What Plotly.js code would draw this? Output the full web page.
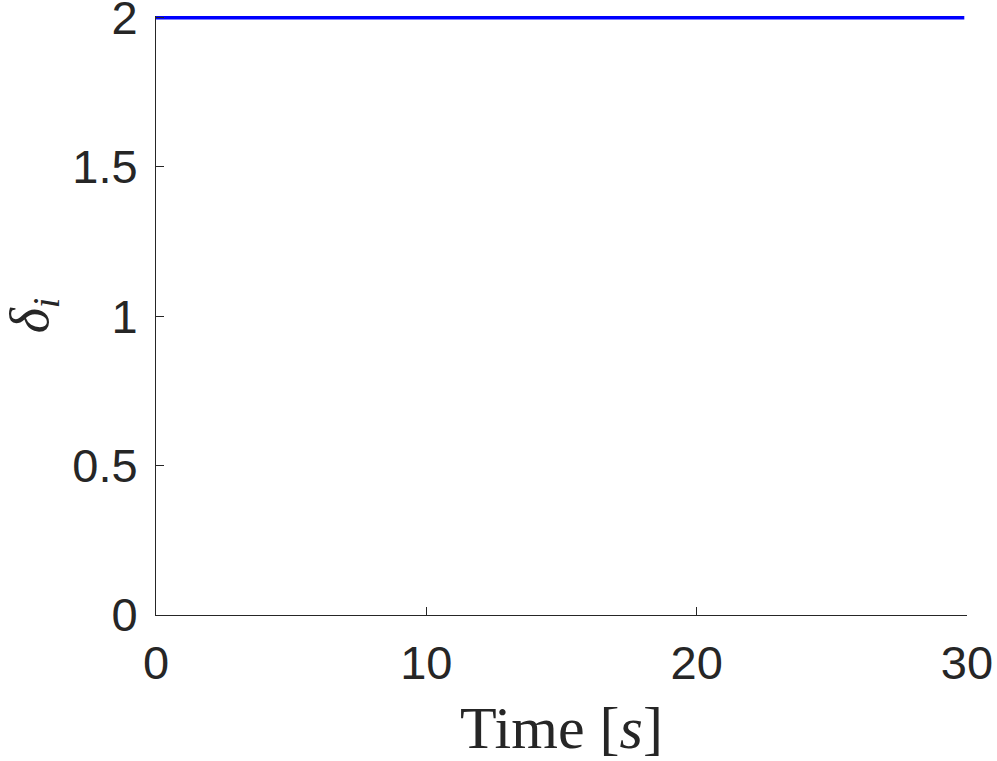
<!DOCTYPE html>
<html>
<head>
<meta charset="utf-8">
<script src="https://cdn.plot.ly/plotly-3.0.1.min.js"></script>
<style>
  html, body { margin: 0; padding: 0; background: white; }
  #chart { width: 997px; height: 761px; }
</style>
</head>
<body>
<div id="chart"></div>
<script>
// Time series of delta_i (constant)
const time = [0, 29.9];
const delta = [2, 2];

const xTicks = [0, 10, 20, 30];
const yTicks = [0, 0.5, 1, 1.5, 2];

const axisColor = '#262626';
const tickFont = { family: 'Liberation Sans, Arial, sans-serif', size: 47, color: axisColor };

const trace = {
    x: time,
    y: delta,
    type: 'scatter',
    mode: 'lines',
    line: { color: '#0000ff', width: 4 },
    cliponaxis: false,
    hoverinfo: 'skip'
};

const layout = {
    width: 997,
    height: 761,
    margin: { l: 156, r: 30, t: 16, b: 146 },
    plot_bgcolor: 'white',
    paper_bgcolor: 'white',
    showlegend: false,
    xaxis: {
        range: [0, 30],
        tickvals: xTicks,
        ticktext: xTicks.map(String),
        ticks: 'inside',
        ticklen: 8,
        tickcolor: axisColor,
        showline: true,
        linecolor: axisColor,
        linewidth: 1,
        showgrid: false,
        zeroline: false,
        tickfont: tickFont,
        ticklabelstandoff: 7,
        ticklabeloverflow: 'allow',
        title: {
            text: 'Time [<i>s</i>]',
            font: { family: 'Liberation Serif, Times New Roman, serif', size: 60, color: axisColor },
            standoff: 17
        }
    },
    yaxis: {
        range: [0, 2.005],
        tickvals: yTicks,
        ticktext: yTicks.map(String),
        ticks: 'inside',
        ticklen: 8,
        tickcolor: axisColor,
        showline: true,
        linecolor: axisColor,
        linewidth: 1,
        showgrid: false,
        zeroline: false,
        tickfont: tickFont,
        ticklabelstandoff: 8,
        ticklabeloverflow: 'allow',
        title: {
            text: '<i>δ</i><sub><i>i</i></sub>',
            font: { family: 'Liberation Serif, Times New Roman, serif', size: 54, color: axisColor },
            standoff: 16
        }
    }
};

Plotly.newPlot('chart', [trace], layout, { displayModeBar: false, staticPlot: true });
</script>
</body>
</html>
